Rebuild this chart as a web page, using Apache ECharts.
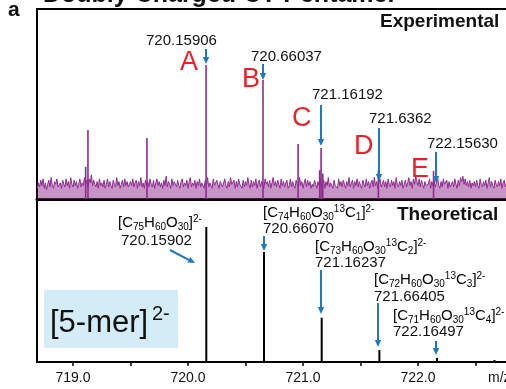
<!DOCTYPE html>
<html>
<head>
<meta charset="utf-8">
<style>
  html, body { margin: 0; padding: 0; background: #fff; }
  #spec { width: 506px; height: 389px; }
</style>
<script src="https://cdn.jsdelivr.net/npm/echarts/dist/echarts.min.js"></script>
</head>
<body>
<div id="spec"></div>
<script>
// experimental peaks: m/z, relative intensity (peak A = 100)
var expPeaks = [
  [719.110, 24], [719.130, 51.5], [719.643, 45.5],
  [720.157, 100], [720.652, 88.8], [720.957, 41],
  [721.145, 21.5], [721.157, 38], [721.172, 19],
  [721.655, 21], [722.135, 21]
];
// baseline noise of the experimental trace, read every 0.01 m/z from 718.69
var noiseStart = 718.69, noiseStep = 0.01;
var noise = [
  8,12,9,14,10,15,8,12,7,11,14,9,16,10,8,13,11,15,9,10,
  12,8,14,11,9,15,10,13,8,16,11,9,14,10,13,8,11,15,9,12,
  10,16,11,14,9,15,12,18,10,14,11,9,13,8,15,10,12,9,14,8,
  11,15,9,13,10,8,14,11,9,16,10,13,8,11,14,9,15,10,13,9,
  8,13,10,15,9,12,14,8,13,10,16,9,12,8,14,10,13,9,15,11,
  9,14,8,12,15,10,13,9,12,8,14,10,17,9,13,11,8,15,10,13,
  11,9,14,10,8,13,15,9,12,10,14,8,13,16,9,12,10,14,8,13,
  10,15,9,12,13,8,14,10,16,9,12,13,8,15,10,9,14,11,8,13,
  14,9,12,15,10,8,13,9,16,11,10,14,8,13,9,15,11,10,8,14,
  9,13,10,16,11,8,14,9,13,10,15,8,12,14,9,13,10,8,15,11,
  13,9,14,8,12,16,10,13,9,14,11,8,15,10,13,9,12,14,8,10,
  15,9,13,10,8,14,11,9,16,10,13,8,12,15,9,14,10,13,8,11,
  9,14,11,8,13,10,15,9,12,14,8,13,10,16,9,12,13,8,14,10,
  11,8,15,10,13,9,14,11,8,13,10,16,9,12,14,8,13,10,15,9,
  13,10,8,14,11,9,15,10,13,8,12,14,9,16,10,13,8,12,15,9,
  10,14,9,13,8,15,11,9,14,10,13,8,16,11,9,13,10,14,8,11,
  14,9,12,16,10,13,8,15,11,17,13,10,15,9,14,11,8,13,10,9,
  11,15,8,13,10,14,9,12,16,10,8,13,9,15,11,10,14,8,13,9,
  10,13,9,15,11,8,14,10,16,13,17,11,15,10,13,9,14,8,12,10,
  13,9,14,10,8,15,11,9,13,10,14,8,12,16,9,13,10,8,14,11,
  9,13,10,15,8,12,14,9,13,10
];
// theoretical isotope pattern
var theoMz = [720.15902, 720.66070, 721.16237, 721.66405, 722.16497, 722.665];
var theoInt = [100, 81.5, 32.8, 8.9, 3.0, 1.5];
// axis
var tickValues = [719, 719.5, 720, 720.5, 721, 721.5, 722, 722.5];
var labelValues = [719, 720, 721, 722];

var expLabels = ['720.15906', '720.66037', '721.16192', '721.6362', '722.15630'];
var peakLetters = ['A', 'B', 'C', 'D', 'E'];
var theoFormulas = [
  '{n|[C}{b|75}{n|H}{b|60}{n|O}{b|30}{n|]}{p|2-}',
  '{n|[C}{b|74}{n|H}{b|60}{n|O}{b|30}{rp|13}{r|C}{rb|1}{n|]}{p|2-}',
  '{n|[C}{b|73}{n|H}{b|60}{n|O}{b|30}{rp|13}{r|C}{rb|2}{n|]}{p|2-}',
  '{n|[C}{b|72}{n|H}{b|60}{n|O}{b|30}{rp|13}{r|C}{rb|3}{n|]}{p|2-}',
  '{n|[C}{b|71}{n|H}{b|60}{n|O}{b|30}{rp|13}{r|C}{rb|4}{n|]}{p|2-}'
];
var theoLabels = ['720.15902', '720.66070', '721.16237', '721.66405', '722.16497'];

var purple = '#8E2C8E', blue = '#1F78C0', red = '#EC2027';
var font = '"Liberation Sans", Arial, Helvetica, sans-serif';

var noiseData = noise.map(function (v, i) { return [noiseStart + i * noiseStep, v]; });
var theoData = theoMz.map(function (m, i) { return [m, theoInt[i]]; });

function arrow(x1, y1, x2, y2) {
  var dx = x2 - x1, dy = y2 - y1, L = Math.sqrt(dx * dx + dy * dy);
  var ux = dx / L, uy = dy / L, h = 7, w = 3.2;
  var bx = x2 - ux * h, by = y2 - uy * h;
  return [
    { type: 'line', z: 50, shape: { x1: x1, y1: y1, x2: bx, y2: by }, style: { stroke: blue, lineWidth: 2 } },
    { type: 'polygon', z: 50, shape: { points: [[x2, y2], [bx - uy * w, by + ux * w], [bx + uy * w, by - ux * w]] }, style: { fill: blue } }
  ];
}
function txt(x, y, s, size, color, weight) {
  return { type: 'text', z: 60, x: x, y: y, style: {
    text: s, fontSize: size, fontFamily: font, fontWeight: weight || 'normal',
    fill: color || '#111', align: 'left', verticalAlign: 'middle' } };
}
var rich = {
  n: { fontSize: 15, fontFamily: font, color: '#111', lineHeight: 18 },
  b: { fontSize: 10, fontFamily: font, color: '#111', lineHeight: 10, verticalAlign: 'bottom' },
  p: { fontSize: 10, fontFamily: font, color: '#111', lineHeight: 10, verticalAlign: 'top' },
  r: { fontSize: 15, fontFamily: font, color: red, lineHeight: 18 },
  rb: { fontSize: 10, fontFamily: font, color: red, lineHeight: 10, verticalAlign: 'bottom' },
  rp: { fontSize: 10, fontFamily: font, color: red, lineHeight: 10, verticalAlign: 'top' }
};
function formula(x, y, s) {
  return { type: 'text', z: 60, x: x, y: y, style: { text: s, rich: rich, align: 'left', verticalAlign: 'middle' } };
}

var g = [];
// title (cut at the top of the figure) and panel letter
g.push(txt(43, -5, 'Doubly Charged CT Pentamer', 25, '#111', 'bold'));
g.push(txt(8, 10, 'a', 21, '#111', 'bold'));
g.push(txt(380, 22, 'Experimental', 19, '#111', 'bold'));
g.push(txt(397, 215, 'Theoretical', 19, '#111', 'bold'));
g.push(txt(488, 378, 'm/z', 14, '#111'));

// experimental annotations
var expLabelPos = [[146, 41], [251, 57], [312, 95], [369, 119], [427, 144]];
var letterPos = [[180, 63], [242, 80], [292, 119], [354, 147], [411, 170]];
var expArrows = [[206, 49, 206, 64], [263, 64, 263, 80], [321, 105, 321, 146], [379, 128, 379, 181], [436, 152, 436, 183]];
expLabels.forEach(function (s, i) {
  g.push(txt(expLabelPos[i][0], expLabelPos[i][1], s, 15));
  g.push(txt(letterPos[i][0], letterPos[i][1], peakLetters[i], 27, red));
  g = g.concat(arrow.apply(null, expArrows[i]));
});

// theoretical annotations
var formPos = [[118, 223], [263, 213], [315, 247], [374, 280], [393, 316]];
var numPos = [[121, 241], [263, 229], [315, 263], [374, 297], [393, 332]];
var theoArrows = [[170, 250, 195, 263], [264, 236, 264, 251], [321, 270, 321, 314], [378, 303, 378, 347], [436, 341, 436, 355]];
theoFormulas.forEach(function (s, i) {
  g.push(formula(formPos[i][0], formPos[i][1], s));
  g.push(txt(numPos[i][0], numPos[i][1], theoLabels[i], 15));
  g = g.concat(arrow.apply(null, theoArrows[i]));
});

// [5-mer]2- box
g.push({ type: 'rect', z: 40, shape: { x: 44, y: 290, width: 134, height: 58 }, style: { fill: '#D4ECF6' } });
g.push(txt(50, 323, '[5-mer]', 31, '#111'));
g.push(txt(152, 314, '2-', 20, '#111'));

var myChart = echarts.init(document.getElementById('spec'));

var frame = { show: true, onZero: false, lineStyle: { color: '#000', width: 2 } };

option = {
  animation: false,
  backgroundColor: '#fff',
  grid: [
    { left: 37, top: 9, right: 0, height: 190 },
    { left: 37, top: 200, right: 0, height: 162 }
  ],
  xAxis: [
    {
      gridIndex: 0, type: 'value', min: 718.687, max: 722.765, position: 'bottom',
      axisLine: { show: true, onZero: false, lineStyle: { color: '#000', width: 3 } },
      axisTick: { show: false }, axisLabel: { show: false }, splitLine: { show: false }
    },
    {
      gridIndex: 1, type: 'value', min: 718.687, max: 722.765,
      axisLine: frame,
      axisTick: { customValues: tickValues, length: 4, lineStyle: { color: '#000', width: 1.5 } },
      axisLabel: {
        customValues: labelValues, margin: 9, color: '#111', fontSize: 14, fontFamily: font,
        formatter: function (v) { return v.toFixed(1); }
      },
      splitLine: { show: false }
    },
    {
      gridIndex: 0, type: 'value', min: 718.687, max: 722.765, position: 'top',
      axisLine: frame, axisTick: { show: false }, axisLabel: { show: false }, splitLine: { show: false }
    }
  ],
  yAxis: [
    {
      gridIndex: 0, type: 'value', min: 0, max: 141.8,
      axisLine: frame, axisTick: { show: false }, axisLabel: { show: false }, splitLine: { show: false }
    },
    {
      gridIndex: 1, type: 'value', min: 0, max: 120,
      axisLine: frame, axisTick: { show: false }, axisLabel: { show: false }, splitLine: { show: false }
    }
  ],
  series: [
    {
      name: 'peaks', type: 'bar', xAxisIndex: 0, yAxisIndex: 0,
      barWidth: 1.6, itemStyle: { color: purple }, data: expPeaks
    },
    {
      name: 'noise', type: 'line', xAxisIndex: 0, yAxisIndex: 0,
      symbol: 'none', lineStyle: { color: purple, width: 1 },
      areaStyle: { color: purple, opacity: 0.5 }, data: noiseData
    },
    {
      name: 'theoretical', type: 'bar', xAxisIndex: 1, yAxisIndex: 1,
      barWidth: 2, itemStyle: { color: '#000' }, data: theoData
    }
  ],
  graphic: g
};
myChart.setOption(option);
</script>
</body>
</html>
